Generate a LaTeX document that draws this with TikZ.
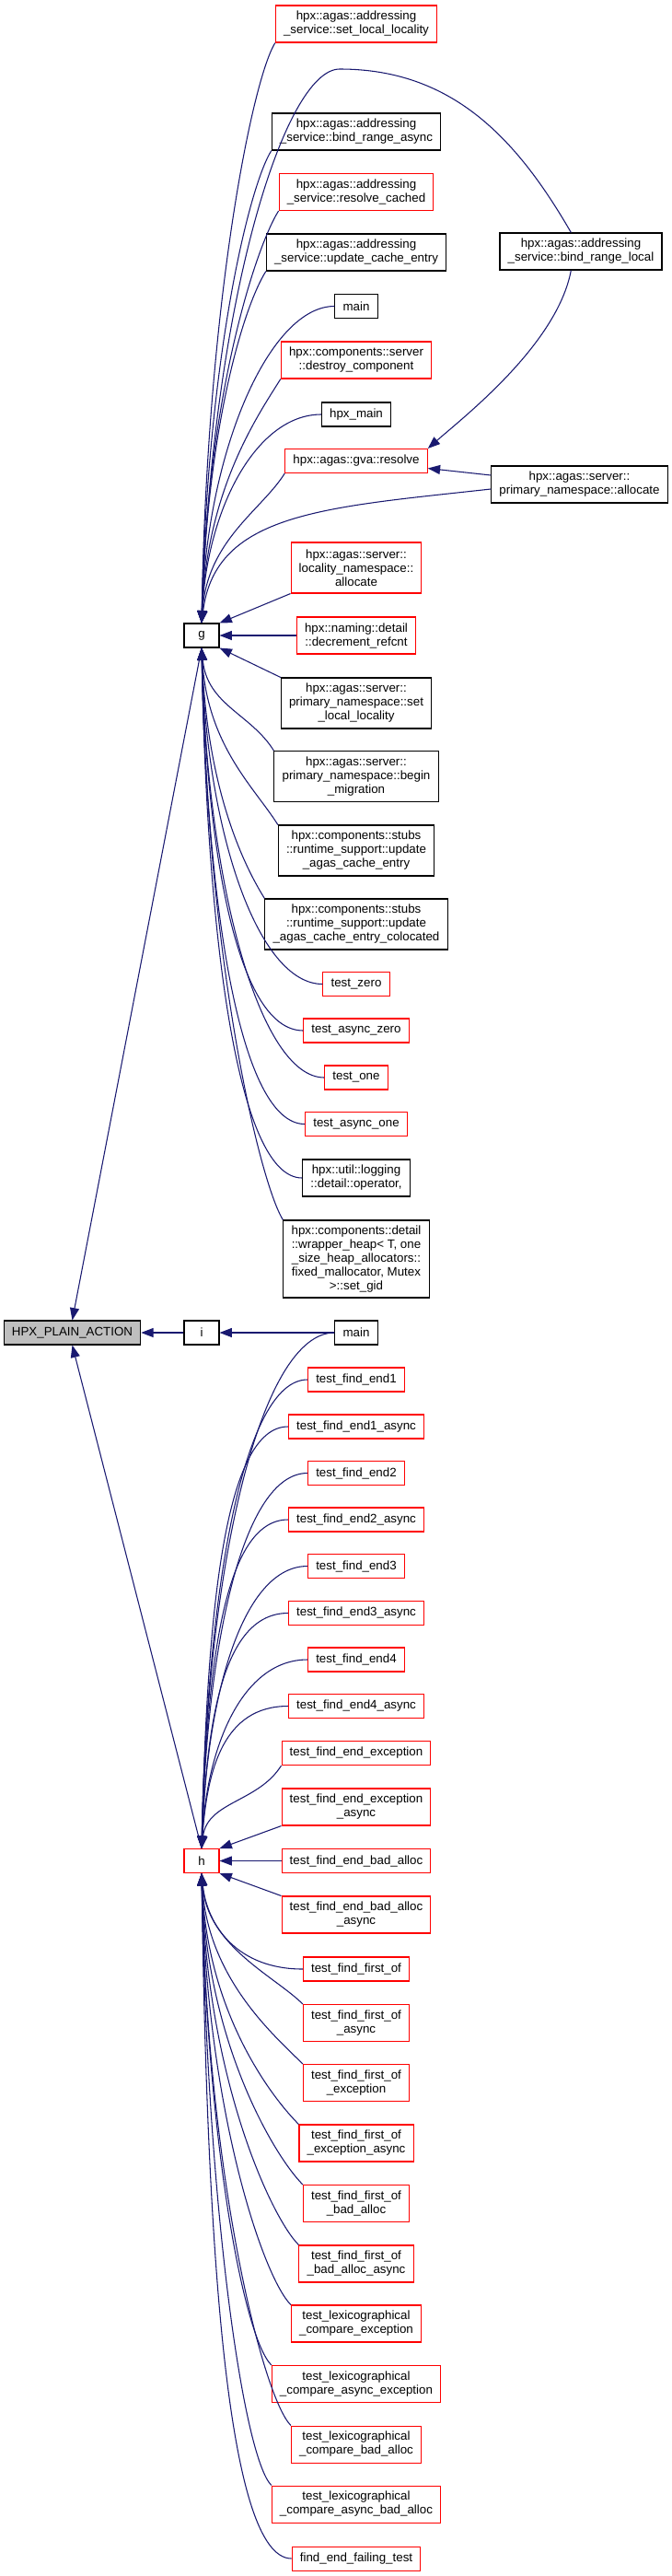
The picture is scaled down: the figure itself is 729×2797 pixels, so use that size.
\documentclass[tikz,border=0pt]{standalone}
\usepackage{fontspec}
\setmainfont{Liberation Sans}
\usetikzlibrary{arrows.meta}
\definecolor{edgeblue}{HTML}{191970}

\begin{document}
\begin{tikzpicture}[x=0.75pt, y=0.75pt, thick,
  fn/.style={draw=black, fill=white, font=\fontsize{10}{11.25}\selectfont, align=center,
    inner xsep=6.5pt, inner ysep=0pt, minimum height=19.5pt},
  fnred/.style={fn, draw=red},
  two/.style={minimum height=30pt},
  three/.style={minimum height=41.25pt},
  call/.style={draw=edgeblue, -{Triangle[length=10pt, width=7.5pt]}}]
  \useasboundingbox (0,0) rectangle (729,-2797);

  % the action and the functions that call it
  \node[fn, fill=black!25] (hpa) at (78.5,-1447) {HPX\_PLAIN\_ACTION};
  \node[fn, minimum width=28.5pt] (g) at (219,-690) {g};
  \node[fn, minimum width=28.5pt] (i) at (219,-1447) {i};
  \node[fnred, minimum width=28.5pt] (h) at (219,-2020.5) {h};

  % callers of g
  \node[fnred, two] (sll) at (387,-26) {hpx::agas::addressing\\\_service::set\_local\_locality};
  \node[fn, two] (bra) at (387,-143) {hpx::agas::addressing\\\_service::bind\_range\_async};
  \node[fnred, two] (rc) at (387,-208.5) {hpx::agas::addressing\\\_service::resolve\_cached};
  \node[fn, two] (uce) at (387,-274) {hpx::agas::addressing\\\_service::update\_cache\_entry};
  \node[fn] (mainA) at (387,-332.5) {main};
  \node[fnred, two] (dc) at (387,-391) {hpx::components::server\\::destroy\_component};
  \node[fn] (hmain) at (387,-450) {hpx\_main};
  \node[fnred] (gva) at (387,-500.5) {hpx::agas::gva::resolve};
  \node[fnred, three] (lna) at (387,-616.5) {hpx::agas::server::\\locality\_namespace::\\allocate};
  \node[fnred, two] (drc) at (387,-690) {hpx::naming::detail\\::decrement\_refcnt};
  \node[fn, three] (psl) at (387,-763.5) {hpx::agas::server::\\primary\_namespace::set\\\_local\_locality};
  \node[fn, three] (pbm) at (387,-843) {hpx::agas::server::\\primary\_namespace::begin\\\_migration};
  \node[fn, three] (uace) at (387,-923.5) {hpx::components::stubs\\::runtime\_support::update\\\_agas\_cache\_entry};
  \node[fn, three] (uacc) at (387,-1003.5) {hpx::components::stubs\\::runtime\_support::update\\\_agas\_cache\_entry\_colocated};
  \node[fnred] (tz) at (387,-1068.5) {test\_zero};
  \node[fnred] (taz) at (387,-1119) {test\_async\_zero};
  \node[fnred] (tone) at (387,-1170) {test\_one};
  \node[fnred] (taone) at (387,-1220.5) {test\_async\_one};
  \node[fn, two] (logop) at (387,-1279) {hpx::util::logging\\::detail::operator,};
  \node[fn, minimum height=63pt] (wh) at (387,-1367) {hpx::components::detail\\::wrapper\_heap< T, one\\\_size\_heap\_allocators::\\fixed\_mallocator, Mutex\\>::set\_gid};
  \node[fn, two] (brl) at (631,-273) {hpx::agas::addressing\\\_service::bind\_range\_local};
  \node[fn, two] (pna) at (629.5,-526) {hpx::agas::server::\\primary\_namespace::allocate};

  % callers of i and h
  \node[fn] (mainB) at (387,-1447) {main};
  \node[fnred] (fe1) at (387,-1498) {test\_find\_end1};
  \node[fnred] (fe1a) at (387,-1549) {test\_find\_end1\_async};
  \node[fnred] (fe2) at (387,-1599.5) {test\_find\_end2};
  \node[fnred] (fe2a) at (387,-1650) {test\_find\_end2\_async};
  \node[fnred] (fe3) at (387,-1700.5) {test\_find\_end3};
  \node[fnred] (fe3a) at (387,-1751.5) {test\_find\_end3\_async};
  \node[fnred] (fe4) at (387,-1802) {test\_find\_end4};
  \node[fnred] (fe4a) at (387,-1852.5) {test\_find\_end4\_async};
  \node[fnred] (fex) at (387,-1903.5) {test\_find\_end\_exception};
  \node[fnred, two] (fexa) at (387,-1962) {test\_find\_end\_exception\\\_async};
  \node[fnred] (fba) at (387,-2020.5) {test\_find\_end\_bad\_alloc};
  \node[fnred, two] (fbaa) at (387,-2079) {test\_find\_end\_bad\_alloc\\\_async};
  \node[fnred] (ffo) at (387,-2138) {test\_find\_first\_of};
  \node[fnred, two] (ffoa) at (387,-2196.5) {test\_find\_first\_of\\\_async};
  \node[fnred, two] (ffox) at (387,-2261.5) {test\_find\_first\_of\\\_exception};
  \node[fnred, two] (ffoxa) at (387,-2327) {test\_find\_first\_of\\\_exception\_async};
  \node[fnred, two] (ffob) at (387,-2392.5) {test\_find\_first\_of\\\_bad\_alloc};
  \node[fnred, two] (ffoba) at (387,-2458) {test\_find\_first\_of\\\_bad\_alloc\_async};
  \node[fnred, two] (lcx) at (387,-2523) {test\_lexicographical\\\_compare\_exception};
  \node[fnred, two] (lcax) at (387,-2588.5) {test\_lexicographical\\\_compare\_async\_exception};
  \node[fnred, two] (lcb) at (387,-2654) {test\_lexicographical\\\_compare\_bad\_alloc};
  \node[fnred, two] (lcab) at (387,-2719) {test\_lexicographical\\\_compare\_async\_bad\_alloc};
  \node[fnred] (feft) at (387,-2778) {find\_end\_failing\_test};

  % edges into HPX_PLAIN_ACTION and i
  \draw[call] (g.south) -- (hpa.north);
  \draw[call] (h.north) -- (hpa.south);
  \draw[call] (i.west) -- (hpa.east);
  \draw[call] (mainB.west) -- (i.east);

  % edges into g from above
  \draw[call] (sll.south west) .. controls +(-25,-40) and +(6,347) .. (g.north);
  \draw[call] (bra.south west) .. controls +(-25,-40) and +(6,283) .. (g.north);
  \draw[call] (rc.south west) .. controls +(-25,-40) and +(6,246) .. (g.north);
  \draw[call] (uce.south west) .. controls +(-25,-40) and +(6,211) .. (g.north);
  \draw[call] (mainA.west) .. controls +(-70,0) and +(6,189) .. (g.north);
  \draw[call] (dc.south west) .. controls +(-25,-40) and +(6,146) .. (g.north);
  \draw[call] (hmain.west) .. controls +(-70,0) and +(6,125) .. (g.north);
  \draw[call] (gva.south west) .. controls +(-25,-40) and +(6,90) .. (g.north);
  \coordinate (arctop) at (369,-75);
  \draw[call] ([xshift=-8pt]brl.north) to[out=120, in=0] (arctop)
    .. controls +(-60,0) and +(12,350) .. (g.north);
  \draw[call] ([yshift=-3.75pt]pna.west) .. controls +(-180,-20) and +(15,120) .. (g.north);
  \draw[call] (lna.south west) -- (g.north east);
  \draw[call] (drc.west) -- (g.east);
  \draw[call] (psl.north west) -- (g.south east);

  % edges into g from below
  \draw[call] (pbm.north west) .. controls +(-25,40) and +(6,-62) .. (g.south);
  \draw[call] (uace.north west) .. controls +(-25,40) and +(6,-106) .. (g.south);
  \draw[call] (uacc.north west) .. controls +(-25,40) and +(6,-150) .. (g.south);
  \draw[call] (tz.west) .. controls +(-70,0) and +(6,-201) .. (g.south);
  \draw[call] (taz.west) .. controls +(-70,0) and +(6,-229) .. (g.south);
  \draw[call] (tone.west) .. controls +(-70,0) and +(6,-257) .. (g.south);
  \draw[call] (taone.west) .. controls +(-70,0) and +(6,-285) .. (g.south);
  \draw[call] (logop.west) .. controls +(-70,0) and +(6,-317) .. (g.south);
  \draw[call] (wh.north west) .. controls +(-25,40) and +(6,-342) .. (g.south);

  % edges between the right column and the callers of g
  \draw[call] ([xshift=-8pt]brl.south) .. controls +(-15,-80) and +(40,35) .. (gva.north east);
  \draw[call] ([yshift=7.5pt]pna.west) -- ([yshift=-6pt]gva.east);

  % edges into h from above
  \draw[call] (mainB.west) .. controls +(-80,0) and +(6,309) .. (h.north);
  \draw[call] (fe1.west) .. controls +(-70,0) and +(6,280) .. (h.north);
  \draw[call] (fe1a.west) .. controls +(-70,0) and +(6,252) .. (h.north);
  \draw[call] (fe2.west) .. controls +(-70,0) and +(6,224) .. (h.north);
  \draw[call] (fe2a.west) .. controls +(-70,0) and +(6,197) .. (h.north);
  \draw[call] (fe3.west) .. controls +(-70,0) and +(6,169) .. (h.north);
  \draw[call] (fe3a.west) .. controls +(-70,0) and +(6,141) .. (h.north);
  \draw[call] (fe4.west) .. controls +(-70,0) and +(6,113) .. (h.north);
  \draw[call] (fe4a.west) .. controls +(-70,0) and +(6,86) .. (h.north);
  \draw[call] (fex.south west) .. controls +(-25,-40) and +(6,51) .. (h.north);
  \draw[call] (fexa.south west) -- (h.north east);
  \draw[call] (fba.west) -- (h.east);
  \draw[call] (fbaa.north west) -- (h.south east);

  % edges into h from below
  \draw[call] (ffo.west) .. controls +(-70,0) and +(6,-58) .. (h.south);
  \draw[call] (ffoa.north west) .. controls +(-30,30) and +(6,-79) .. (h.south);
  \draw[call] (ffox.north west) .. controls +(-30,30) and +(6,-114) .. (h.south);
  \draw[call] (ffoxa.north west) .. controls +(-30,30) and +(6,-151) .. (h.south);
  \draw[call] (ffob.north west) .. controls +(-30,30) and +(6,-186) .. (h.south);
  \draw[call] (ffoba.north west) .. controls +(-30,30) and +(6,-223) .. (h.south);
  \draw[call] (lcx.north west) .. controls +(-30,30) and +(6,-259) .. (h.south);
  \draw[call] (lcax.north west) .. controls +(-30,30) and +(6,-294) .. (h.south);
  \draw[call] (lcb.north west) .. controls +(-30,30) and +(6,-331) .. (h.south);
  \draw[call] (lcab.north west) .. controls +(-30,30) and +(6,-366) .. (h.south);
  \draw[call] (feft.west) .. controls +(-70,0) and +(6,-410) .. (h.south);
\end{tikzpicture}
\end{document}
